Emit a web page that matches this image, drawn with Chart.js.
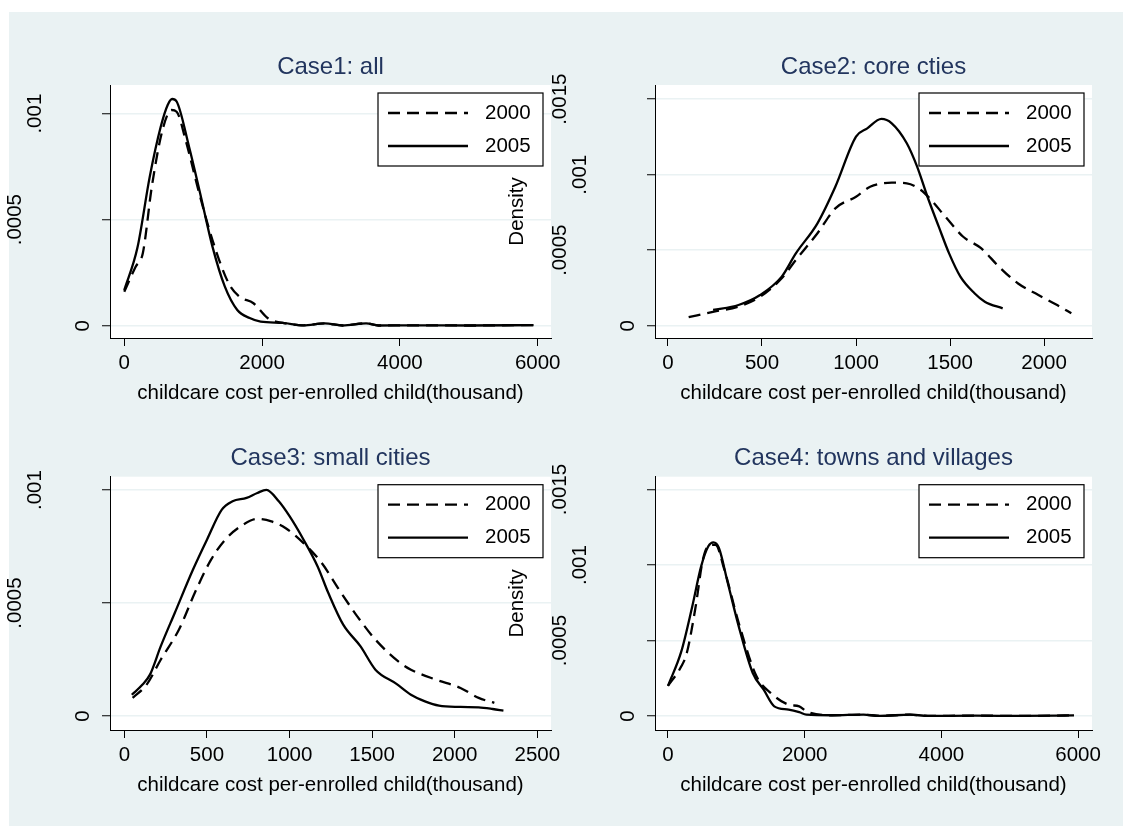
<!DOCTYPE html>
<html>
<head>
<meta charset="utf-8">
<script src="https://cdn.jsdelivr.net/npm/chart.js@4/dist/chart.umd.min.js"></script>
<style>
  html, body { margin: 0; padding: 0; background: #fff; }
  #page { position: relative; width: 1123px; height: 826px; overflow: hidden; }
  #bg { position: absolute; left: 9px; top: 12px; right: 0; bottom: 0; background: #eaf2f3; }
  canvas { position: absolute; left: 0; top: 0; }
</style>
</head>
<body>
<div id="page">
  <div id="bg"></div>
  <canvas id="c1" width="1123" height="826"></canvas>
  <canvas id="c2" width="1123" height="826"></canvas>
  <canvas id="c3" width="1123" height="826"></canvas>
  <canvas id="c4" width="1123" height="826"></canvas>
</div>
<script>
// kernel densities, x in thousand
const years = ['2000', '2005']

// Case1: all
const allX2000 = [0, 165, 270, 400, 555, 685, 760, 890, 1075, 1280, 1515, 1670, 1875, 2085, 2300, 2600, 2910, 3170, 3510, 3690, 4200, 5000, 5940]
const allY2000 = [0.00016, 0.000278, 0.000343, 0.000656, 0.000923, 0.001017, 0.001009, 0.000876, 0.00064, 0.000404, 0.0002, 0.000137, 0.000106, 0.000035, 0.000013, 0.000002, 0.000011, 0.000001, 0.000011, 0.000001, 0.000002, 0.000001, 0.000003]
const allX2005 = [0, 190, 370, 530, 630, 695, 760, 940, 1100, 1280, 1460, 1640, 1820, 1980, 2300, 2600, 2910, 3170, 3510, 3690, 4200, 5000, 5940]
const allY2005 = [0.000168, 0.000366, 0.000703, 0.000939, 0.001041, 0.001069, 0.001057, 0.000844, 0.000626, 0.000373, 0.000184, 0.000074, 0.000036, 0.000019, 0.000013, 0.000002, 0.000011, 0.000001, 0.000011, 0.000001, 0.000002, 0.000001, 0.000003]

// Case2: core cties
const coreX2000 = [110, 245, 375, 490, 605, 680, 795, 890, 1000, 1075, 1190, 1270, 1345, 1400, 1475, 1570, 1665, 1760, 1860, 1970, 2085, 2145]
const coreY2000 = [0.000056, 0.000093, 0.000126, 0.000192, 0.000314, 0.000435, 0.000612, 0.000777, 0.000854, 0.00092, 0.000947, 0.000943, 0.000899, 0.000832, 0.000722, 0.000589, 0.000513, 0.000391, 0.000281, 0.000203, 0.000126, 0.000082]
const coreX2005 = [240, 375, 490, 605, 680, 795, 890, 1000, 1060, 1135, 1190, 1270, 1325, 1380, 1440, 1495, 1555, 1630, 1685, 1780]
const coreY2005 = [0.000104, 0.000137, 0.000203, 0.000325, 0.000479, 0.000678, 0.00092, 0.001252, 0.001307, 0.001369, 0.00134, 0.001208, 0.001053, 0.000854, 0.000656, 0.000479, 0.000325, 0.000215, 0.000159, 0.000115]

// Case3: small cities
const smallX2000 = [50, 135, 220, 330, 435, 525, 610, 720, 805, 890, 975, 1085, 1195, 1300, 1410, 1520, 1670, 1735, 1885, 2035, 2145, 2240]
const smallY2000 = [0.00008, 0.000139, 0.000249, 0.000382, 0.000559, 0.000692, 0.00078, 0.000847, 0.000872, 0.000861, 0.000832, 0.000765, 0.000677, 0.000559, 0.000441, 0.000338, 0.000235, 0.000205, 0.000161, 0.000124, 0.00008, 0.000058]
const smallX2005 = [45, 110, 155, 220, 305, 415, 500, 590, 655, 740, 805, 860, 935, 1000, 1085, 1170, 1235, 1325, 1430, 1520, 1645, 1735, 1820, 1905, 2035, 2145, 2230, 2295]
const smallY2005 = [0.000094, 0.000139, 0.000183, 0.000308, 0.000456, 0.000647, 0.00078, 0.000913, 0.00095, 0.000965, 0.000987, 0.001001, 0.00095, 0.000884, 0.00078, 0.000662, 0.000544, 0.000404, 0.000308, 0.000205, 0.000143, 0.000094, 0.000065, 0.000046, 0.00004, 0.000038, 0.000031, 0.000024]

// Case4: towns and villages
const townX2000 = [0, 195, 275, 405, 510, 615, 695, 825, 1035, 1295, 1505, 1765, 1920, 2025, 2400, 2860, 3100, 3540, 3800, 4500, 5200, 5940]
const townY2000 = [0.0002, 0.000329, 0.000417, 0.000726, 0.001035, 0.001134, 0.001134, 0.000969, 0.000616, 0.000263, 0.000152, 0.000075, 0.000064, 0.000031, 0.000005, 0.000009, 0.000001, 0.000009, 0.000001, 0.000002, 0.000001, 0.000004]
const townX2005 = [0, 195, 355, 485, 590, 665, 745, 875, 1035, 1240, 1400, 1555, 1765, 1920, 2025, 2400, 2860, 3100, 3540, 3800, 4500, 5200, 5940]
const townY2005 = [0.0002, 0.000428, 0.000726, 0.000991, 0.001124, 0.00115, 0.001113, 0.000881, 0.000594, 0.000285, 0.000174, 0.000064, 0.000042, 0.000025, 0.000009, 0.000005, 0.000009, 0.000001, 0.000009, 0.000001, 0.000002, 0.000001, 0.000004]

// tick labels
const xTicksWide = [0, 2000, 4000, 6000]
const xTicksCore = [0, 500, 1000, 1500, 2000]
const xTicksSmall = [0, 500, 1000, 1500, 2000, 2500]
const yTicksLow = [0, 0.0005, 0.001]
const yTicksHigh = [0, 0.0005, 0.001, 0.0015]

const xTitle = 'childcare cost per-enrolled child(thousand)'
const FONT = '"Liberation Sans", Arial, sans-serif'
const SMALL = 20.5
const LINE_W = 2.3
const DASH = [12, 7]

Chart.defaults.font.family = FONT
Chart.defaults.color = '#000'

// stata style labels: .0005 instead of 0.0005
const stataNum = v => String(v).replace(/^0\./, '.')

const toPoints = (xs, ys) => xs.map((x, i) => ({ x: x, y: ys[i] }))

// white plot region on the bluish page
const plotBg = {
	id: 'plotBg',
	beforeDraw(chart) {
		const { ctx, chartArea: a } = chart
		ctx.save()
		ctx.fillStyle = '#fff'
		ctx.fillRect(a.left, a.top, a.right - a.left, a.bottom - a.top)
		ctx.restore()
	}
}

// vertical y labels, pushed out further the longer they are
const yLabels = {
	id: 'yLabels',
	afterDraw(chart) {
		const { ctx } = chart
		const s = chart.scales.y
		ctx.save()
		ctx.font = SMALL + 'px ' + FONT
		ctx.fillStyle = '#000'
		ctx.textAlign = 'center'
		ctx.textBaseline = 'middle'
		s.ticks.forEach(t => {
			const text = stataNum(t.value)
			const x = s.right - 7.8 - 1.684 * ctx.measureText(text).width
			ctx.save()
			ctx.translate(x, s.getPixelForValue(t.value))
			ctx.rotate(-Math.PI / 2)
			ctx.fillText(text, 0, 0)
			ctx.restore()
		})
		ctx.restore()
	}
}

// boxed legend in the top right corner of the plot
const boxLegend = {
	id: 'boxLegend',
	afterDraw(chart) {
		const { ctx, chartArea: a } = chart
		const w = 165, h = 73
		const x0 = a.right - 8 - w, y0 = a.top + 8
		ctx.save()
		ctx.fillStyle = '#fff'
		ctx.fillRect(x0, y0, w, h)
		ctx.strokeStyle = '#000'
		ctx.lineWidth = 1.2
		ctx.strokeRect(x0, y0, w, h)
		ctx.font = SMALL + 'px ' + FONT
		ctx.textBaseline = 'middle'
		chart.data.datasets.forEach((ds, i) => {
			const y = y0 + 20 + i * 33
			ctx.setLineDash(ds.borderDash)
			ctx.lineWidth = ds.borderWidth
			ctx.beginPath()
			ctx.moveTo(x0 + 10, y)
			ctx.lineTo(x0 + 90, y)
			ctx.stroke()
			ctx.setLineDash([])
			ctx.fillStyle = '#000'
			ctx.fillText(ds.label, x0 + 107, y)
		})
		ctx.restore()
	}
}

function panel(id, p) {
	return new Chart(document.getElementById(id), {
		type: 'line',
		data: {
			datasets: [
				{ label: years[0], data: toPoints(p.x2000, p.y2000), borderWidth: LINE_W, borderDash: DASH },
				{ label: years[1], data: toPoints(p.x2005, p.y2005), borderWidth: LINE_W, borderDash: [] }
			]
		},
		options: {
			responsive: false,
			animation: false,
			events: [],
			layout: { padding: p.pad },
			elements: {
				line: { borderColor: '#000', fill: false, cubicInterpolationMode: 'monotone' },
				point: { radius: 0 }
			},
			plugins: {
				legend: { display: false },
				tooltip: { enabled: false },
				title: {
					display: true,
					text: p.title,
					fullSize: false,
					color: '#22355e',
					font: { size: 24, weight: 'normal' },
					padding: { top: 0, bottom: 3.5 }
				}
			},
			scales: {
				x: {
					type: 'linear',
					min: p.xMin,
					max: p.xMax,
					afterBuildTicks: s => { s.ticks = p.xTicks.map(v => ({ value: v })) },
					afterFit: s => { s.height = 70; s.paddingLeft = 0; s.paddingRight = 0 },
					grid: { drawOnChartArea: false, tickLength: 8, tickColor: '#000', tickWidth: 1 },
					border: { color: '#000', width: 1 },
					ticks: { padding: 5, font: { size: SMALL }, maxRotation: 0, callback: v => String(v) },
					title: { display: true, text: xTitle, font: { size: SMALL }, padding: { top: 0, bottom: 2 } }
				},
				y: {
					type: 'linear',
					min: p.yMin,
					max: p.yMax,
					afterBuildTicks: s => { s.ticks = p.yTicks.map(v => ({ value: v })) },
					afterFit: s => { s.width = p.yWidth; s.paddingTop = 0; s.paddingBottom = 0 },
					grid: { color: '#eaf2f3', lineWidth: 1.5, tickLength: 8, tickColor: '#000', tickWidth: 1 },
					border: { color: '#000', width: 1 },
					ticks: { display: false },
					title: { display: p.yTitle, text: 'Density', font: { size: SMALL }, padding: 0 }
				}
			}
		},
		plugins: [plotBg, yLabels, boxLegend]
	})
}

panel('c1', {
	title: 'Case1: all',
	x2000: allX2000, y2000: allY2000, x2005: allX2005, y2005: allY2005,
	xMin: -207, xMax: 6193, xTicks: xTicksWide,
	yMin: -0.000058, yMax: 0.001135, yTicks: yTicksLow,
	yWidth: 100, yTitle: false,
	pad: { left: 10, top: 52.7, right: 572, bottom: 418 }
})
panel('c2', {
	title: 'Case2: core cties',
	x2000: coreX2000, y2000: coreY2000, x2005: coreX2005, y2005: coreY2005,
	xMin: -69, xMax: 2255, xTicks: xTicksCore,
	yMin: -0.0000815, yMax: 0.001594, yTicks: yTicksHigh,
	yWidth: 150, yTitle: true,
	pad: { left: 505, top: 52.7, right: 31, bottom: 418 }
})
panel('c3', {
	title: 'Case3: small cities',
	x2000: smallX2000, y2000: smallY2000, x2005: smallX2005, y2005: smallY2005,
	xMin: -87, xMax: 2583, xTicks: xTicksSmall,
	yMin: -0.000062, yMax: 0.001059, yTicks: yTicksLow,
	yWidth: 100, yTitle: false,
	pad: { left: 10, top: 444.4, right: 572, bottom: 26 }
})
panel('c4', {
	title: 'Case4: towns and villages',
	x2000: townX2000, y2000: townY2000, x2005: townX2005, y2005: townY2005,
	xMin: -190, xMax: 6203, xTicks: xTicksWide,
	yMin: -0.0000927, yMax: 0.001585, yTicks: yTicksHigh,
	yWidth: 150, yTitle: true,
	pad: { left: 505, top: 444.4, right: 31, bottom: 26 }
})
</script>
</body>
</html>
